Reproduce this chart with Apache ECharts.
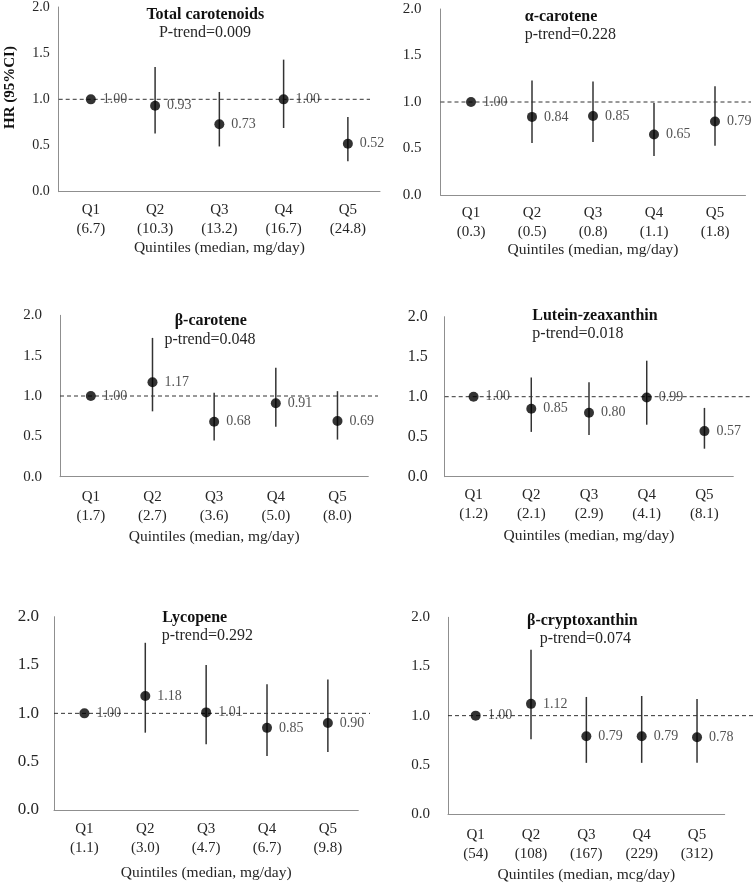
<!DOCTYPE html>
<html>
<head>
<meta charset="utf-8">
<script src="https://cdn.jsdelivr.net/npm/echarts@6/dist/echarts.min.js"></script>
<style>
html,body{margin:0;padding:0;background:#fff;}
#chart{width:756px;height:886px;}
</style>
</head>
<body>
<div id="chart"></div>
<script>
// ---- data ----
const panelNames = ['Total carotenoids', 'α-carotene', 'β-carotene', 'Lutein-zeaxanthin', 'Lycopene', 'β-cryptoxanthin'];
const pTrends = ['P-trend=0.009', 'p-trend=0.228', 'p-trend=0.048', 'p-trend=0.018', 'p-trend=0.292', 'p-trend=0.074'];
const quintiles = ['Q1', 'Q2', 'Q3', 'Q4', 'Q5'];
const medians = [
  ['6.7', '10.3', '13.2', '16.7', '24.8'],
  ['0.3', '0.5', '0.8', '1.1', '1.8'],
  ['1.7', '2.7', '3.6', '5.0', '8.0'],
  ['1.2', '2.1', '2.9', '4.1', '8.1'],
  ['1.1', '3.0', '4.7', '6.7', '9.8'],
  ['54', '108', '167', '229', '312']
];
const xTitles = ['Quintiles (median, mg/day)', 'Quintiles (median, mg/day)', 'Quintiles (median, mg/day)',
  'Quintiles (median, mg/day)', 'Quintiles (median, mg/day)', 'Quintiles (median, mcg/day)'];
const yTitle = 'HR (95%CI)';
const hr = [
  [1.00, 0.93, 0.73, 1.00, 0.52],
  [1.00, 0.84, 0.85, 0.65, 0.79],
  [1.00, 1.17, 0.68, 0.91, 0.69],
  [1.00, 0.85, 0.80, 0.99, 0.57],
  [1.00, 1.18, 1.01, 0.85, 0.90],
  [1.00, 1.12, 0.79, 0.79, 0.78]
];
const ciLow = [
  [null, 0.63, 0.49, 0.69, 0.33],
  [null, 0.56, 0.57, 0.42, 0.53],
  [null, 0.81, 0.45, 0.62, 0.46],
  [null, 0.56, 0.52, 0.65, 0.35],
  [null, 0.80, 0.68, 0.56, 0.60],
  [null, 0.76, 0.52, 0.52, 0.52]
];
const ciHigh = [
  [null, 1.35, 1.08, 1.43, 0.81],
  [null, 1.23, 1.22, 0.99, 1.17],
  [null, 1.72, 1.04, 1.35, 1.06],
  [null, 1.24, 1.18, 1.45, 0.86],
  [null, 1.73, 1.50, 1.30, 1.35],
  [null, 1.67, 1.19, 1.20, 1.17]
];
const refHR = 1.0;
const yTicks = [0, 0.5, 1.0, 1.5, 2.0];

// ---- layout (positions / styles only) ----
const layout = [
  {left: 58.7, top: 6.9, width: 321.3, height: 184.8, refEnd: 370, yFont: 14, yMargin: 9, xMargin: 8.8, nameGap: 48,
   t: {x: 205.3, y: 15, a: 'center'}, s: {x: 205, y: 33, a: 'center'}},
  {left: 440.5, top: 9, width: 305, height: 186, refEnd: 751, yFont: 15, yMargin: 19, xMargin: 8.5, nameGap: 45,
   t: {x: 524.7, y: 16.7, a: 'left'}, s: {x: 524.7, y: 35, a: 'left'}},
  {left: 60, top: 315.3, width: 308.3, height: 161.4, refEnd: 378, yFont: 15, yMargin: 18, xMargin: 10.5, nameGap: 52.5,
   t: {x: 210.7, y: 320.7, a: 'center'}, s: {x: 210, y: 339.3, a: 'center'}},
  {left: 444.7, top: 316.7, width: 288.6, height: 160, refEnd: 751, yFont: 16, yMargin: 17, xMargin: 8.8, nameGap: 51,
   t: {x: 532.3, y: 316, a: 'left'}, s: {x: 532.3, y: 334, a: 'left'}},
  {left: 54, top: 616.7, width: 304.3, height: 193.3, refEnd: 370, yFont: 17, yMargin: 15, xMargin: 9.8, nameGap: 55,
   t: {x: 162.3, y: 618.3, a: 'left'}, s: {x: 161.7, y: 636, a: 'left'}},
  {left: 448, top: 617.3, width: 276.7, height: 196.7, refEnd: 753, yFont: 15, yMargin: 18, xMargin: 11.5, nameGap: 53,
   t: {x: 527, y: 620.7, a: 'left'}, s: {x: 585.3, y: 639, a: 'center'}}
];

const FONT = '"Liberation Serif", "Times New Roman", serif';
const TXT = '#262626';
const AXIS = '#8f8f8f';

const grid = [], xAxis = [], yAxis = [], series = [], graphic = [];

layout.forEach((L, p) => {
  // main grid
  grid.push({left: L.left, top: L.top, width: L.width, height: L.height, containLabel: false});
  xAxis.push({
    type: 'category', gridIndex: p,
    data: quintiles.map((q, i) => q + '\n(' + medians[p][i] + ')'),
    boundaryGap: true,
    axisLine: {show: true, lineStyle: {color: AXIS, width: 1}},
    axisTick: {show: false},
    axisLabel: {fontFamily: FONT, fontSize: 15, color: TXT, lineHeight: 19, margin: L.xMargin, interval: 0},
    splitLine: {show: false},
    name: xTitles[p], nameLocation: 'middle', nameGap: L.nameGap,
    nameTextStyle: {fontFamily: FONT, fontSize: 15.5, color: TXT}
  });
  yAxis.push({
    type: 'value', gridIndex: p, min: yTicks[0], max: yTicks[yTicks.length - 1],
    interval: yTicks[1] - yTicks[0],
    axisLine: {show: true, lineStyle: {color: AXIS, width: 1}},
    axisTick: {show: false},
    splitLine: {show: false},
    axisLabel: {fontFamily: FONT, fontSize: L.yFont, color: TXT, margin: L.yMargin,
      formatter: v => v.toFixed(1)}
  });
});

layout.forEach((L, p) => {
  // reference-line grid (extends past axis end like the original)
  const gi = 6 + p;
  grid.push({left: L.left, top: L.top, width: L.refEnd - L.left, height: L.height});
  xAxis.push({type: 'value', gridIndex: gi, min: 0, max: 1, show: false});
  yAxis.push({type: 'value', gridIndex: gi, min: yTicks[0], max: yTicks[yTicks.length - 1], show: false});
  series.push({
    type: 'line', xAxisIndex: gi, yAxisIndex: gi, silent: true, symbol: 'none', z: 1,
    data: [[0, refHR], [1, refHR]],
    lineStyle: {color: '#333', width: 1, type: [4, 3]}
  });
});

layout.forEach((L, p) => {
  const ebData = [];
  quintiles.forEach((q, i) => {
    if (ciLow[p][i] != null) ebData.push([i, ciLow[p][i], ciHigh[p][i]]);
  });
  series.push({
    type: 'custom', xAxisIndex: p, yAxisIndex: p, z: 2, silent: true,
    data: ebData,
    renderItem: function (params, api) {
      const a = api.coord([api.value(0), api.value(1)]);
      const b = api.coord([api.value(0), api.value(2)]);
      return {type: 'line', shape: {x1: a[0], y1: a[1], x2: b[0], y2: b[1]},
        style: {stroke: '#333', lineWidth: 1.5}};
    }
  });
  series.push({
    type: 'scatter', xAxisIndex: p, yAxisIndex: p, z: 3,
    data: hr[p],
    symbol: 'circle', symbolSize: 10,
    itemStyle: {color: '#000'},
    label: {show: true, position: 'right', distance: 7, fontFamily: FONT, fontSize: 14, color: TXT,
      formatter: d => d.value.toFixed(2)}
  });
  graphic.push({type: 'text', x: L.t.x, y: L.t.y, style: {text: panelNames[p], fontFamily: FONT, fontSize: 16,
    fontWeight: 'bold', fill: '#111', textAlign: L.t.a, textVerticalAlign: 'middle'}});
  graphic.push({type: 'text', x: L.s.x, y: L.s.y, style: {text: pTrends[p], fontFamily: FONT, fontSize: 16,
    fill: TXT, textAlign: L.s.a, textVerticalAlign: 'middle'}});
});

graphic.push({type: 'text', x: 10, y: 87.5, rotation: Math.PI / 2,
  style: {text: yTitle, fontFamily: FONT, fontSize: 15, fontWeight: 'bold', fill: '#111',
    textAlign: 'center', textVerticalAlign: 'middle'}});

const chart = echarts.init(document.getElementById('chart'), null, {renderer: 'canvas'});
chart.setOption({
  animation: false,
  backgroundColor: '#fff',
  grid, xAxis, yAxis, series, graphic
});
</script>
</body>
</html>
